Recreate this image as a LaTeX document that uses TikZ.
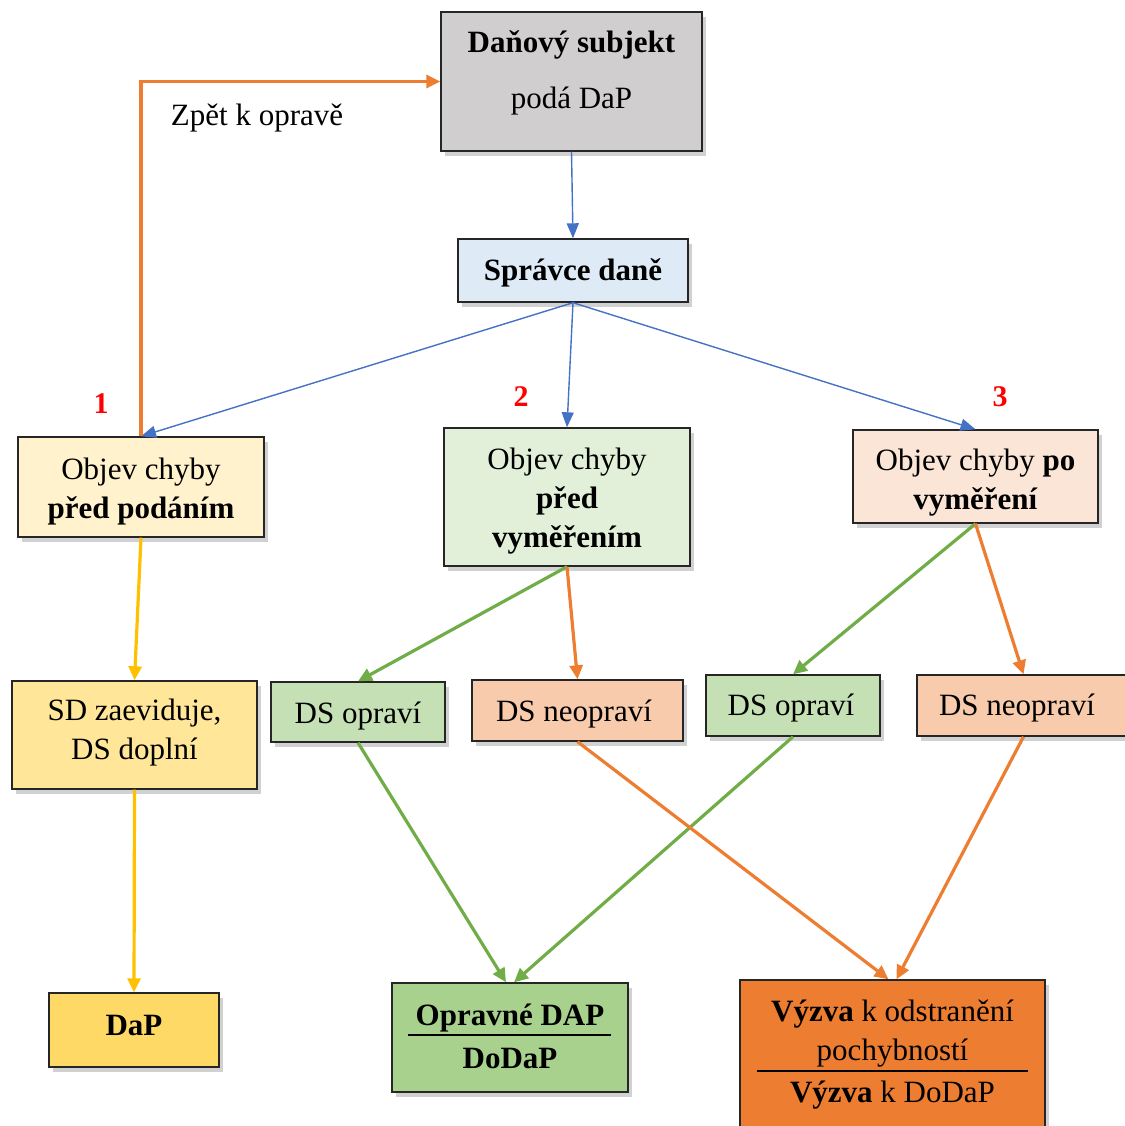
\documentclass[tikz,border=0pt]{standalone}
\usepackage{fontspec}
\setmainfont{Liberation Serif}
\usetikzlibrary{arrows.meta,shadows}
\definecolor{cgray}{HTML}{D0CECE}
\definecolor{cblue}{HTML}{DEEBF7}
\definecolor{cyel1}{HTML}{FFF2CC}
\definecolor{cgrn1}{HTML}{E2F0D9}
\definecolor{corg1}{HTML}{FBE5D6}
\definecolor{cyel2}{HTML}{FFE699}
\definecolor{cgrn2}{HTML}{C5E0B4}
\definecolor{corg2}{HTML}{F8CBAD}
\definecolor{cyel3}{HTML}{FFD966}
\definecolor{cgrn3}{HTML}{A9D18E}
\definecolor{corg3}{HTML}{ED7D31}
\definecolor{lblue}{HTML}{4472C4}
\definecolor{lorange}{HTML}{ED7D31}
\definecolor{lgreen}{HTML}{70AD47}
\definecolor{lyellow}{HTML}{FFC000}
\tikzset{
  box/.style={draw=black!85, line width=1.4pt, inner sep=0pt,
    drop shadow={shadow xshift=4pt, shadow yshift=-5pt, opacity=0.3, fill=black!60}},
  txt/.style={inner sep=0pt, align=center, font=\fontsize{31}{39}\selectfont, yshift=-3pt},
  btxt/.style={txt, font=\fontsize{31}{39}\selectfont\bfseries},
  num/.style={inner sep=0pt, text=red, font=\fontsize{30}{36}\selectfont\bfseries},
  thinarrow/.style={draw=lblue, line width=1.4pt, -{Triangle[length=15pt,width=12pt]}},
  thickarrow/.style={line width=3.2pt, -{Triangle[length=14pt,width=13pt]}},
}
\begin{document}
\begin{tikzpicture}[x=1pt,y=-1pt]
\useasboundingbox (0,0) rectangle (1124,1126);
% boxes
\node[box, fill=cgray, minimum width=261pt, minimum height=139pt] (ds) at (571.5,81.5) {};
\node[btxt] (dst1) at (571.5,42) {Daňový subjekt};
\node[txt] (dst2) at (571.5,98) {podá DaP};
\node[box, fill=cblue, minimum width=230pt, minimum height=63pt] (sd) at (573,270.5) {};
\node[btxt] (sdt) at (573,270) {Správce daně};
\node[box, fill=cyel1, minimum width=246pt, minimum height=100pt] (b1) at (141,487) {};
\node[txt] (b1t) at (141,488.5) {Objev chyby\\\textbf{před podáním}};
\node[box, fill=cgrn1, minimum width=246pt, minimum height=138pt] (b2) at (567,497) {};
\node[txt] (b2t) at (567,498) {Objev chyby\\\textbf{před}\\\textbf{vyměřením}};
\node[box, fill=corg1, minimum width=245pt, minimum height=93pt] (b3) at (975.5,476.5) {};
\node[txt] (b3t) at (975.5,480) {Objev chyby \textbf{po}\\\textbf{vyměření}};
\node[box, fill=cyel2, minimum width=245pt, minimum height=108pt] (sdz) at (134.5,735) {};
\node[txt] (sdzt) at (134.5,730) {SD zaeviduje,\\DS doplní};
\node[box, fill=cgrn2, minimum width=174pt, minimum height=60pt] (o1) at (358,712) {};
\node[txt] (o1t) at (358,713) {DS opraví};
\node[box, fill=corg2, minimum width=211pt, minimum height=61pt] (n1) at (577.5,710.5) {};
\node[txt] (n1t) at (574,711) {DS neopraví};
\node[box, fill=cgrn2, minimum width=174pt, minimum height=61pt] (o2) at (793,705.5) {};
\node[txt] (o2t) at (791,705) {DS opraví};
\node[box, fill=corg2, minimum width=213pt, minimum height=61pt] (n2) at (1023.5,705.5) {};
\node[txt] (n2t) at (1017,705) {DS neopraví};
\node[box, fill=cyel3, minimum width=170pt, minimum height=74pt] (dap) at (134,1030) {};
\node[btxt] (dapt) at (134,1022) {DaP};
\node[box, fill=cgrn3, minimum width=236pt, minimum height=109pt] (opr) at (510,1037.5) {};
\node[btxt] (oprt1) at (510,1015) {Opravné DAP};
\node[btxt] (oprt2) at (510,1055) {DoDaP};
\coordinate (oprl1) at (408,1035);
\coordinate (oprl2) at (611,1035);
\draw[line width=1.3pt] (oprl1) -- (oprl2);
\node[box, fill=corg3, minimum width=305pt, minimum height=160pt] (vyz) at (892.5,1060) {};
\node[txt] (vyzt1) at (892.5,1011) {\textbf{Výzva} k odstranění};
\node[txt] (vyzt2) at (892.5,1050) {pochybností};
\node[txt] (vyzt3) at (892.5,1092) {\textbf{Výzva} k DoDaP};
\coordinate (vyzl1) at (757,1071);
\coordinate (vyzl2) at (1028,1071);
\draw[line width=1.3pt] (vyzl1) -- (vyzl2);
% labels
\node[txt] (back) at (257,115) {Zpět k opravě};
\node[num] (n1lab) at (101,404) {1};
\node[num] (n2lab) at (521,397) {2};
\node[num] (n3lab) at (1000,397) {3};
% connectors
\draw[thinarrow] (ds.south) -- (sd.north);
\draw[thinarrow] (sd.south) -- (b1.north);
\draw[thinarrow] (sd.south) -- (b2.north);
\draw[thinarrow] (sd.south) -- (b3.north);
\draw[thickarrow, draw=lorange] (b1.north) |- (ds.west);
\draw[thickarrow, draw=lyellow] (b1.south) -- (sdz.north);
\draw[thickarrow, draw=lyellow] (sdz.south) -- (dap.north);
\draw[thickarrow, draw=lgreen] (b2.south) -- (o1.north);
\draw[thickarrow, draw=lorange] (b2.south) -- (n1.north);
\draw[thickarrow, draw=lgreen] (b3.south) -- (o2.north);
\draw[thickarrow, draw=lorange] (b3.south) -- (n2.north);
\draw[thickarrow, draw=lgreen] (o1.south) -- ([xshift=-4pt]opr.north);
\draw[thickarrow, draw=lgreen] (o2.south) -- ([xshift=4pt]opr.north);
\draw[thickarrow, draw=lorange] (n1.south) -- ([xshift=-4pt]vyz.north);
\draw[thickarrow, draw=lorange] (n2.south) -- ([xshift=4pt]vyz.north);
\end{tikzpicture}
\end{document}
